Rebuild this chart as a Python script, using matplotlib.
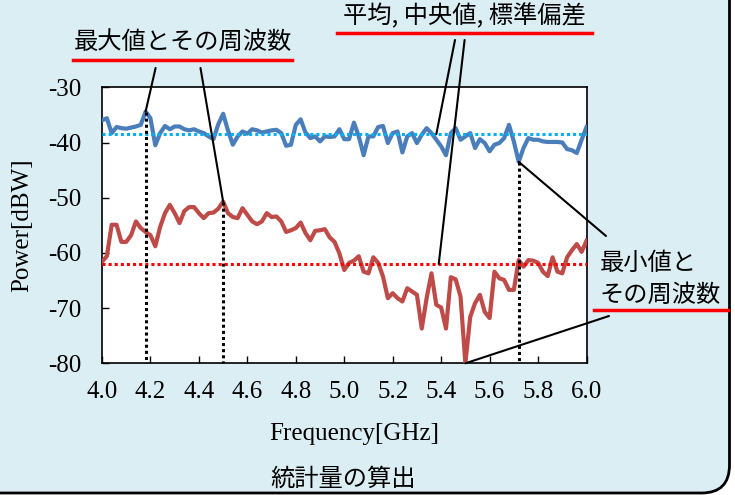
import numpy as np
import matplotlib.pyplot as plt
from matplotlib.patches import FancyBboxPatch, ConnectionPatch

plt.rcParams['axes.unicode_minus'] = False
plt.rcParams['font.family'] = 'Liberation Serif'

W, H = 735, 495
JP = ['Noto Sans CJK JP', 'DejaVu Sans']

# 4.0-6.0 GHz sweep, 20 MHz step
freq = np.linspace(4.0, 6.0, 101)

upper_dbw = [
    -36.0, -35.6, -38.3, -37.2, -37.4, -37.5, -37.3, -37.1, -36.8, -34.4,
    -35.6, -40.5, -38.3, -37.0, -37.6, -37.1, -37.1, -37.6, -37.8, -37.6,
    -38.0, -38.3, -38.9, -39.4, -36.7, -34.8, -37.8, -40.4, -38.9, -38.0,
    -38.4, -37.6, -37.8, -38.2, -38.0, -37.8, -37.7, -38.3, -40.6, -40.4,
    -36.8, -35.8, -38.2, -39.2, -38.9, -39.8, -38.9, -39.0, -38.9, -37.6,
    -39.4, -39.4, -36.4, -38.9, -42.3, -38.9, -38.9, -37.2, -37.0, -40.1,
    -38.3, -38.0, -41.8, -38.9, -38.3, -40.1, -38.6, -37.4, -38.3, -39.5,
    -40.7, -42.3, -38.3, -37.4, -39.5, -38.9, -38.3, -41.0, -39.4, -40.1,
    -41.6, -40.4, -40.1, -39.2, -36.8, -39.8, -43.5, -41.0, -39.2, -39.5,
    -39.5, -39.8, -39.9, -39.9, -39.9, -40.0, -41.2, -41.4, -41.9, -39.5,
    -37.2,
]

lower_dbw = [
    -61.6, -60.6, -54.9, -54.9, -58.0, -58.0, -56.8, -54.3, -55.5, -56.2,
    -56.8, -58.8, -55.3, -52.8, -51.3, -52.8, -54.6, -52.4, -51.7, -51.7,
    -52.8, -53.7, -52.8, -52.7, -52.0, -50.7, -52.8, -53.5, -53.7, -51.9,
    -53.1, -54.3, -54.8, -54.3, -52.8, -53.5, -53.4, -54.3, -56.2, -55.9,
    -55.5, -54.5, -56.4, -57.7, -56.0, -55.9, -55.7, -57.2, -58.0, -60.1,
    -63.1, -61.8, -61.4, -60.6, -63.4, -63.7, -60.8, -61.8, -64.3, -68.2,
    -67.3, -68.2, -68.8, -66.4, -67.0, -67.6, -73.7, -68.2, -63.7, -69.4,
    -69.9, -73.7, -64.4, -64.8, -67.9, -80.0, -71.6, -69.1, -67.6, -70.7,
    -71.8, -63.4, -64.6, -64.9, -66.7, -66.7, -61.3, -62.5, -61.3, -61.4,
    -61.8, -63.4, -64.2, -60.8, -63.4, -63.7, -60.8, -59.5, -58.4, -59.8,
    -57.8,
]

upper_mean = -38.5
lower_mean = -62.0

x_ticks = [4.0, 4.2, 4.4, 4.6, 4.8, 5.0, 5.2, 5.4, 5.6, 5.8, 6.0]
x_labels = ['4.0', '4.2', '4.4', '4.6', '4.8', '5.0', '5.2', '5.4', '5.6', '5.8', '6.0']
y_ticks = [-80, -70, -60, -50, -40, -30]
y_labels = ['-80', '-70', '-60', '-50', '-40', '-30']

fig = plt.figure(figsize=(W / 100, H / 100), dpi=100, facecolor='white')

# slide panel behind the chart (pixel coordinates, y down)
bg = fig.add_axes([0, 0, 1, 1], zorder=-1)
bg.set_xlim(0, W)
bg.set_ylim(H, 0)
bg.axis('off')
bg.add_patch(FancyBboxPatch((-40, -40), 769.5, 533,
                            boxstyle='round,pad=0,rounding_size=28',
                            fc='#daeef3', ec='black', lw=2))

ax = fig.add_axes([102 / W, 1 - 363.3 / H, 484.5 / W, 276 / H])
ax.set_facecolor('white')
ax.plot(freq, upper_dbw, color='#4a7ebb', lw=3.0, solid_joinstyle='round', zorder=3)
ax.plot(freq, lower_dbw, color='#be4b48', lw=3.0, solid_joinstyle='round', zorder=3)

dot = (0, (1, 1))
ax.axhline(upper_mean, color='#00b0f0', lw=2.2, ls=dot, zorder=4)
ax.axhline(lower_mean, color='#ff0000', lw=2.2, ls=dot, zorder=4)

i_umax = int(np.argmax(upper_dbw))
i_lmax = int(np.argmax(lower_dbw))
i_umin = int(np.argmin(upper_dbw))
i_lmin = int(np.argmin(lower_dbw))

# drop lines from the extremes to the frequency axis
for i, series in [(i_umax, upper_dbw), (i_lmax, lower_dbw), (i_umin, upper_dbw)]:
    ax.plot([freq[i], freq[i]], [series[i], -80], color='black', lw=2.2,
            ls=dot, zorder=5, clip_on=False)

ax.set_xlim(4.0, 6.0)
ax.set_ylim(-80, -30)
ax.set_xticks(x_ticks, x_labels)
ax.set_yticks(y_ticks, y_labels)
ax.tick_params(direction='in', length=5, width=1, labelsize=18, colors='black')
ax.tick_params(axis='x', pad=13)
ax.tick_params(axis='y', pad=15)
for side in ax.spines.values():
    side.set_linewidth(1.2)
    side.set_color('black')

# callouts and captions on top of everything
ov = fig.add_axes([0, 0, 1, 1], zorder=5)
ov.set_xlim(0, W)
ov.set_ylim(H, 0)
ov.axis('off')

ov.text(354, 434, 'Frequency[GHz]', fontsize=18, ha='center', va='center')
ov.text(22, 225, 'Power[dBW]', fontsize=18, rotation=90, ha='center', va='center')

ov.text(183, 42, '最大値とその周波数', family=JP, fontsize=17.5, ha='center', va='center')
ov.plot([73, 292], [60, 60], color='#ff0000', lw=2.5)
ov.text(464, 16, '平均, 中央値, 標準偏差', family=JP, fontsize=17.5, ha='center', va='center')
ov.plot([337, 592], [33, 33], color='#ff0000', lw=2.5)
ov.text(600, 263, '最小値と', family=JP, fontsize=17.5, ha='left', va='center')
ov.text(600, 295, 'その周波数', family=JP, fontsize=17.5, ha='left', va='center')
ov.plot([594, 728], [310, 310], color='#ff0000', lw=2.5)
ov.text(343, 479, '統計量の算出', family=JP, fontsize=17.5, ha='center', va='center')

callouts = [
    ((155.6, 68), (freq[i_umax], upper_dbw[i_umax])),
    ((200.5, 68), (freq[i_lmax], lower_dbw[i_lmax])),
    ((455, 40), (5.38, upper_mean)),
    ((464.6, 40), (5.39, lower_mean)),
    ((606, 236), (freq[i_umin], upper_dbw[i_umin])),
    ((609, 316), (freq[i_lmin], lower_dbw[i_lmin])),
]
for start, end in callouts:
    fig.add_artist(ConnectionPatch(xyA=start, coordsA=ov.transData,
                                   xyB=end, coordsB=ax.transData,
                                   color='black', lw=1.5, zorder=6))

fig.savefig('out.png', dpi=100, facecolor=fig.get_facecolor())
